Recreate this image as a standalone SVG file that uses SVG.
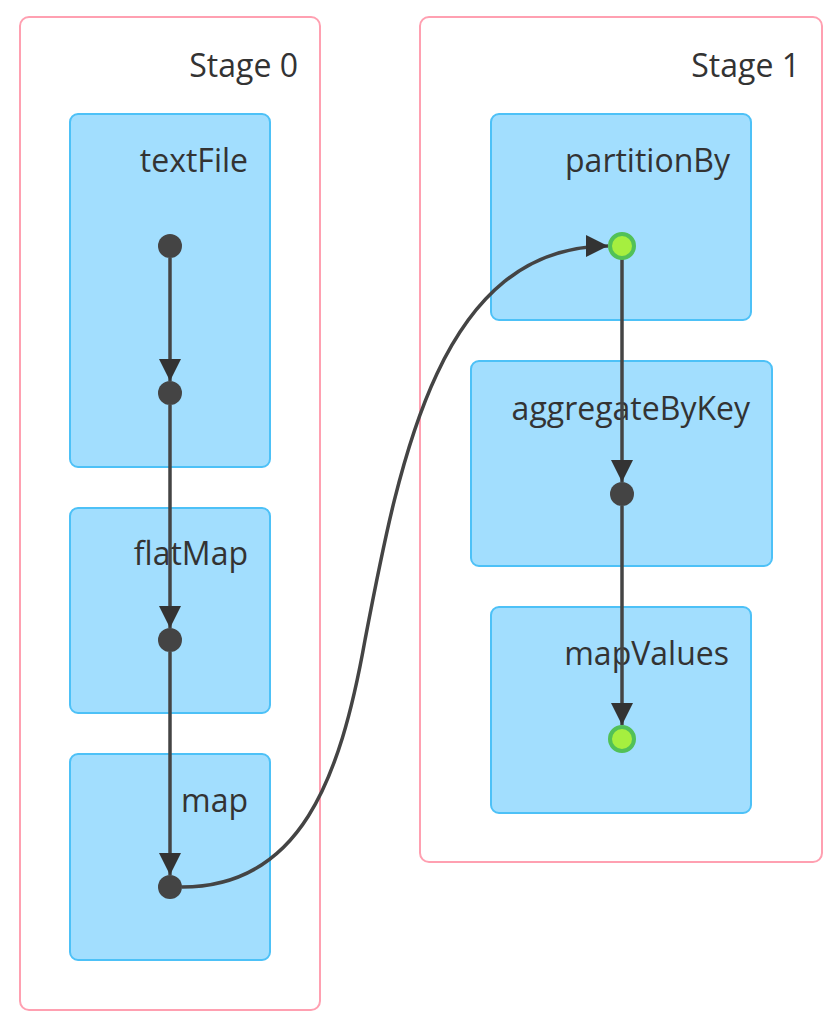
<svg xmlns="http://www.w3.org/2000/svg" width="835" height="1020" viewBox="0 0 835 1020">
<style>
.cluster{fill:#ffffff;stroke:#ffa0b1;stroke-width:2}
.node{fill:#a2defe;stroke:#4dc1f7;stroke-width:2}
.lbl{font-family:"Open Sans","Noto Sans",sans-serif;font-size:32px;fill:#333333;text-anchor:end}
.dot{fill:#444444}
.gdot{fill:#a6ef3f;stroke:#52c157;stroke-width:4}
.edge{fill:none;stroke:#444444;stroke-width:3.5}
</style>
<defs>
<marker id="arr" viewBox="0 0 22 22" refX="22" refY="11" markerWidth="22" markerHeight="22" markerUnits="userSpaceOnUse" orient="auto">
<path d="M0,0 L22,11 L0,22 Z" fill="#333333"/>
</marker>
</defs>
<rect width="835" height="1020" fill="#ffffff"/>
<g id="stage0">
<rect class="cluster" x="20" y="17" width="300" height="993" rx="9"/>
<text class="lbl" x="298" y="77">Stage 0</text>
</g>
<g id="stage1">
<rect class="cluster" x="420" y="17" width="402" height="845" rx="9"/>
<text class="lbl" x="800" y="77">Stage 1</text>
</g>
<g id="textFile">
<rect class="node" x="70" y="114" width="200" height="353" rx="8"/>
<text class="lbl" x="248" y="172">textFile</text>
</g>
<g id="flatMap">
<rect class="node" x="70" y="508" width="200" height="205" rx="8"/>
<text class="lbl" x="248" y="565">flatMap</text>
</g>
<g id="map">
<rect class="node" x="70" y="754" width="200" height="206" rx="8"/>
<text class="lbl" x="248" y="812">map</text>
</g>
<g id="partitionBy">
<rect class="node" x="491" y="114" width="260" height="206" rx="8"/>
<text class="lbl" x="730" y="172">partitionBy</text>
</g>
<g id="aggregateByKey">
<rect class="node" x="471" y="361" width="301" height="205" rx="8"/>
<text class="lbl" x="750" y="420">aggregateByKey</text>
</g>
<g id="mapValues">
<rect class="node" x="491" y="607" width="260" height="206" rx="8"/>
<text class="lbl" x="729" y="665">mapValues</text>
</g>
<g id="connectors">
<path class="edge" d="M170,258 L170,381" marker-end="url(#arr)"/>
<path class="edge" d="M170,405 L170,628" marker-end="url(#arr)"/>
<path class="edge" d="M170,652 L170,875" marker-end="url(#arr)"/>
<path class="edge" d="M182,887 C300,887 340,780 365,640 C400,457 440,246 608,246" marker-end="url(#arr)"/>
<path class="edge" d="M622,258 L622,482" marker-end="url(#arr)"/>
<path class="edge" d="M622,506 L622,725" marker-end="url(#arr)"/>
</g>
<g id="dots">
<circle class="dot" cx="170" cy="246" r="12"/>
<circle class="dot" cx="170" cy="393" r="12"/>
<circle class="dot" cx="170" cy="640" r="12"/>
<circle class="dot" cx="170" cy="887" r="12"/>
<circle class="gdot" cx="622" cy="246" r="12"/>
<circle class="dot" cx="622" cy="494" r="12"/>
<circle class="gdot" cx="622" cy="739" r="12"/>
</g>
</svg>
